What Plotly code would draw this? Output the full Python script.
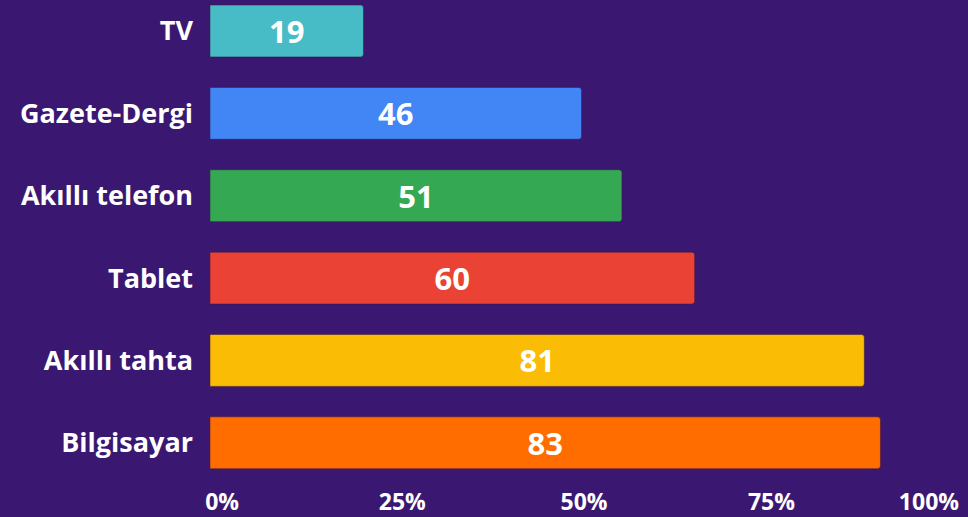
import plotly.graph_objects as go

categories = ["Bilgisayar", "Akıllı tahta", "Tablet", "Akıllı telefon", "Gazete-Dergi", "TV"]
values = [83, 81, 60, 51, 46, 19]
bar_colors = ["#FF6D00", "#FBBC05", "#EA4335", "#34A853", "#4285F4", "#48BCC6"]
tick_labels = ["0%", "25%", "50%", "75%", "100%"]

BG = "#3a1871"
FONT = "Open Sans"

x_max = 90
# tick label positions (in axis units) as they appear in the reference
tick_vals = [1.5, 23.8, 46.3, 69.5, 89.0]

fig = go.Figure(
    go.Bar(
        y=categories,
        x=values,
        orientation="h",
        marker=dict(color=bar_colors, line=dict(color="rgba(60,20,60,0.5)", width=1), cornerradius=3),
        text=[str(v) for v in values],
        textposition="inside",
        insidetextanchor="middle",
        textfont=dict(family=FONT, size=31, color="white", weight=700),
        cliponaxis=False,
    )
)

fig.update_layout(
    width=968,
    height=517,
    paper_bgcolor=BG,
    plot_bgcolor=BG,
    margin=dict(l=210, r=31, t=0, b=33),
    bargap=0.37,
    showlegend=False,
    xaxis=dict(
        range=[0, x_max],
        tickvals=tick_vals,
        ticktext=tick_labels,
        showgrid=False,
        zeroline=False,
        showline=False,
        ticks="",
        automargin=False,
        ticklabelstandoff=2,
        tickfont=dict(family=FONT, size=23, color="white", weight=700),
    ),
    yaxis=dict(
        range=[-0.5, 5.376],
        showgrid=False,
        zeroline=False,
        showline=False,
        ticks="",
        automargin=False,
        ticklabelstandoff=16,
        tickfont=dict(family=FONT, size=27, color="white", weight=700),
    ),
)

fig.write_html(
    "out.html",
    config={"displayModeBar": False},
    post_script="document.body.style.margin='0';",
)
